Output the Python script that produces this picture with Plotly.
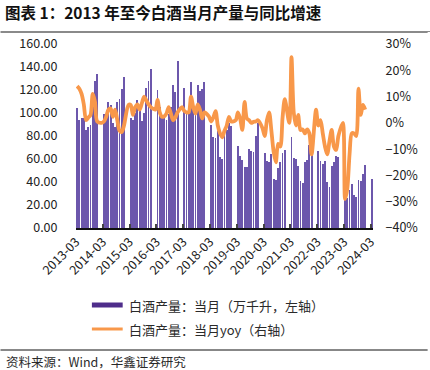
import plotly.graph_objects as go

# Monthly series from 2013-03 to 2024-03 (Jan/Feb production not reported)
months = []
for yr in range(2013, 2025):
    for mo in range(1, 13):
        if (yr == 2013 and mo < 3) or (yr == 2024 and mo > 3):
            continue
        months.append(f"{yr}-{mo:02d}")

production = [
    104, 94, 96, 96, 85, 88, 90, 111, 128, 134,
    None, None, 99, 96, 110, 107, 91, 88, 110, 112, 121, 131,
    None, None, 96, 94, 100, 111, 104, 93, 100, 122, 128, 138,
    None, None, 120, 105, 97, 96, 94, 99, 105, 124, 118, 145,
    None, None, 122, 102, 101, 127, 104, 99, 124, 119, 121, 127,
    None, None, 90, 79, 78, 84, 62, 60, 88, 85, 91, 89,
    None, None, 71, 63, 59, 53, 53, 69, 67, 66, 80, 91,
    None, None, 65, 58, 57, 64, 43, 42, 52, 57, 65, 68,
    None, None, 79, 61, 60, 54, 41, 39, 57, 59, 72, 72,
    None, None, 67, 58, 56, 58, 40, 36, 54, 57, 63, 62,
    None, None, 40, 26, 33, 38, 29, 27, 42, 41, 47, 55,
    None, None, 43,
]

yoy = [
    14, 13, 11, 7, 1, 2, 3, 11, 8, 0.5,
    None, 0, 0.5, 2.3, 5, 5.5, 2.3, 5, 1, -3, -3.5, -1,
    None, 6.8, 6.8, 3, 6, 7, 5, 7.5, 10, 8.5, 7, 6,
    None, 5, 8.7, 4, 2.3, 2.5, 3.5, 6, 3.5, 1, 2, 4,
    None, 6, 4.5, 4, 4, 10, 6, 3.5, 7, 5, 1.7, 4,
    None, 2.5, 0.5, 2, 4.5, -1, -4, -5.5, -3, -1, 2.3, 0.5,
    None, 1, 4, 1.7, -2.7, 8, 1.7, 1, 0, 0.4, 0.5, 1,
    None, -2, -5, 1, 4, -3, -11, -15, -8, -9, 2, 9,
    None, 0, 25, 4, -1, 3, -2.7, -2.5, -4, -2.5, -4, -12,
    None, 5, -1, 1, -4, -9, -12, -7, -2.7, -9, -10.3, -5,
    None, 0, -29, -25, -12, -4, -4, -5, 13, 3, 6.8, 5,
    None, None, None,
]

tick_labels = ["2013-03", "2014-03", "2015-03", "2016-03", "2017-03", "2018-03",
               "2019-03", "2020-03", "2021-03", "2022-03", "2023-03", "2024-03"]

bar_name = "白酒产量：当月（万千升，左轴）"
line_name = "白酒产量：当月yoy（右轴）"

idx = list(range(len(months)))
tick_pos = [months.index(t) - 0.5 for t in tick_labels]

BAR_COLOR = "#6C57AC"
LINE_COLOR = "#F8984A"
FONT = "Noto Sans CJK SC"

fig = go.Figure()
fig.add_trace(go.Bar(x=idx, y=production, marker=dict(color=BAR_COLOR, line=dict(width=0)),
                     width=0.38, name=bar_name, showlegend=False, yaxis="y"))
fig.add_trace(go.Scatter(x=idx, y=yoy, mode="lines", connectgaps=True,
                         line=dict(color=LINE_COLOR, width=3.8, shape="spline", smoothing=0.8),
                         name=line_name, showlegend=False, yaxis="y2"))

W, H = 430, 370
L, R, T, B = 76, 375, 44, 228
pw, ph = R - L, B - T

def px_x(p):
    return (p - L) / pw

def px_y(p):
    return (B - p) / ph

shapes = [
    dict(type="line", xref="paper", yref="paper", x0=0, x1=0, y0=0, y1=0,
         line=dict(color="rgba(0,0,0,0)", width=0)),
    dict(type="line", xref="paper", yref="paper", x0=0, x1=0, y0=0, y1=0,
         line=dict(color="rgba(0,0,0,0)", width=0)),
    dict(type="line", xref="paper", yref="paper", x0=px_x(0), x1=px_x(W),
         y0=px_y(32), y1=px_y(32), line=dict(color="#8a8a8a", width=2)),
    dict(type="line", xref="paper", yref="paper", x0=px_x(0), x1=px_x(W),
         y0=px_y(350), y1=px_y(350), line=dict(color="#111111", width=1)),
    # legend swatches
    dict(type="rect", xref="paper", yref="paper", x0=px_x(92), x1=px_x(123),
         y0=px_y(307.5), y1=px_y(302.5), line=dict(width=0), fillcolor="#4E2D8A"),
    dict(type="line", xref="paper", yref="paper", x0=px_x(92), x1=px_x(123),
         y0=px_y(329), y1=px_y(329), line=dict(color=LINE_COLOR, width=3)),
]

annotations = [
    # title rule drawn as a thin filled annotation box
    dict(text=" ", xref="paper", yref="paper", x=px_x(0), y=px_y(32),
         xanchor="left", yanchor="middle", showarrow=False, width=W, height=1,
         bgcolor="#8a8a8a", borderpad=0, borderwidth=0, font=dict(size=1)),
    dict(text=bar_name, xref="paper", yref="paper", x=px_x(127), y=px_y(305),
         xanchor="left", yanchor="middle", showarrow=False,
         font=dict(family=FONT, size=13, color="#2a2a2a")),
    dict(text=line_name, xref="paper", yref="paper", x=px_x(127), y=px_y(329),
         xanchor="left", yanchor="middle", showarrow=False,
         font=dict(family=FONT, size=13, color="#2a2a2a")),
    dict(text="资料来源：Wind，华鑫证券研究", xref="paper", yref="paper",
         x=px_x(4), y=px_y(361.5), xanchor="left", yanchor="middle", showarrow=False,
         font=dict(family=FONT, size=12.5, color="#2a2a2a")),
]

fig.update_layout(
    width=W, height=H,
    margin=dict(l=L, r=W - R, t=T, b=H - B, pad=0),
    paper_bgcolor="white", plot_bgcolor="white",
    font=dict(family=FONT, size=12, color="#222222"),
    showlegend=False,
    bargap=0,
    title=dict(text="<b>图表 1：2013 年至今白酒当月产量与同比增速</b>",
               x=5 / W, xanchor="left", xref="container",
               y=1 - 14 / H, yanchor="middle", yref="container",
               font=dict(family=FONT, size=15.5, color="#111111")),
    xaxis=dict(range=[-0.5, len(months) - 0.5], tickmode="array", tickvals=tick_pos,
               ticktext=tick_labels, tickangle=-45, showgrid=False, zeroline=False,
               showline=True, linecolor="#111111", linewidth=1.5,
               ticks="inside", ticklen=4, tickcolor="#444444", tickwidth=2,
               tickfont=dict(family=FONT, size=12.5, color="#222222")),
    yaxis=dict(range=[0, 160], dtick=20, tickformat=".2f", showgrid=False, zeroline=False,
               showline=False, ticks="outside", ticklen=15, tickcolor="rgba(0,0,0,0)",
               tickfont=dict(family=FONT, size=12.5, color="#222222")),
    yaxis2=dict(range=[-40, 30], dtick=10, ticksuffix="%", overlaying="y", side="right",
                showgrid=False, zeroline=False, showline=False, ticks="outside", ticklen=9,
                tickcolor="rgba(0,0,0,0)",
                tickfont=dict(family=FONT, size=12.5, color="#222222")),
    shapes=shapes,
    annotations=annotations,
)

fig.write_html("out.html", config={"displayModeBar": False},
               post_script="document.body.style.margin='0';document.body.style.padding='0';")
